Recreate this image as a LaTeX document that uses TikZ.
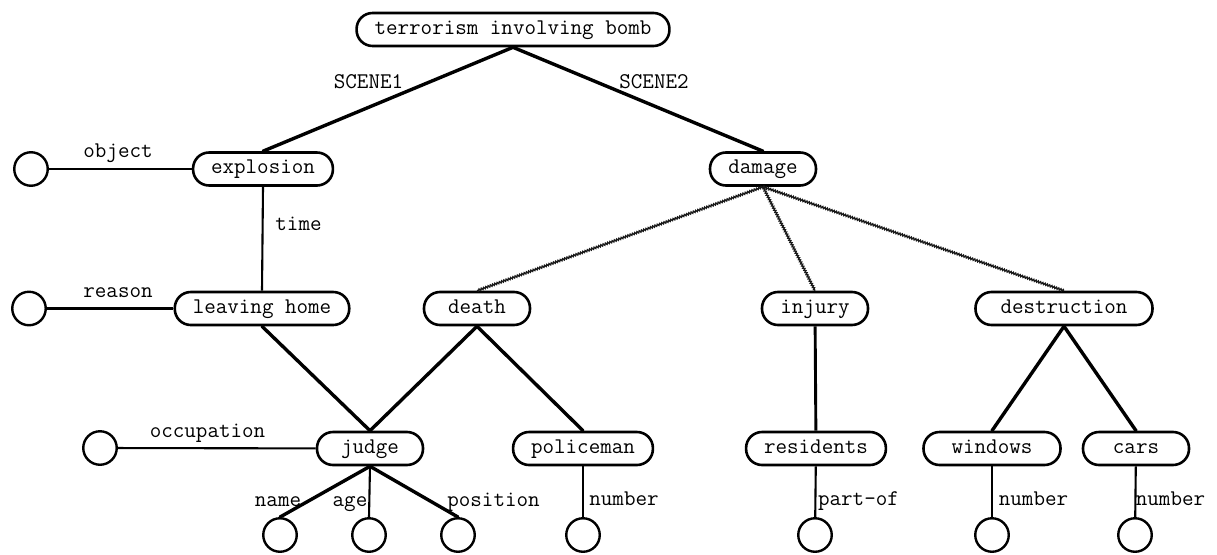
\documentclass[tikz,border=0pt]{standalone}
\usepackage{fontspec}
\usetikzlibrary{decorations.pathmorphing}
\begin{document}
\begin{tikzpicture}[x=1pt,y=-1pt,
  concept/.style={draw, line width=2.6pt, rounded corners=16pt,
    minimum height=33pt, minimum width=106pt, inner xsep=18pt, inner ysep=0pt,
    font=\ttfamily\fontsize{22.4}{24}\selectfont, text height=14pt, text depth=5pt},
  slot/.style={draw, circle, line width=2.4pt, minimum size=33.5pt, inner sep=0pt},
  rel/.style={font=\ttfamily\fontsize{22.4}{24}\selectfont, inner sep=0pt, anchor=base},
  strong/.style={line width=3.4pt, line cap=round},
  medium/.style={line width=2.9pt},
  weak/.style={line width=2.1pt},
  vague/.style={line width=1.3pt, black!90, decorate,
    decoration={zigzag, segment length=2.4pt, amplitude=0.9pt}},
]
\fill[white] (0,0) rectangle (1217,554);
\useasboundingbox (0,0) rectangle (1217,554);

% concept frames
\node[concept] (top) at (513,29.5) {terrorism involving bomb};
\node[concept] (expl) at (263,169) {explosion};
\node[concept] (dmg) at (763,169) {damage};
\node[concept] (leave) at (262,308.5) {leaving home};
\node[concept] (death) at (477,308.5) {death};
\node[concept] (inj) at (815,308.5) {injury};
\node[concept, minimum width=177pt] (destr) at (1064,308.5) {destruction};
\node[concept] (judge) at (370,448.5) {judge};
\node[concept] (police) at (583,448.5) {policeman};
\node[concept] (resid) at (816,448.5) {residents};
\node[concept, minimum width=137pt] (win) at (992,448.5) {windows};
\node[concept] (cars) at (1136,448.5) {cars};

% empty slots
\node[slot] (oObj) at (31,169) {};
\node[slot] (oReason) at (29,308.5) {};
\node[slot] (oOcc) at (100,448) {};
\node[slot] (oName) at (280,535) {};
\node[slot] (oAge) at (369,535) {};
\node[slot] (oPos) at (458,535) {};
\node[slot] (oPol) at (583,535) {};
\node[slot] (oRes) at (815,535) {};
\node[slot] (oWin) at (992,535) {};
\node[slot] (oCars) at (1135,535) {};

% relation names
\node[rel] (lScene1) at (368.5,88) {SCENE1};
\node[rel] (lScene2) at (654,88) {SCENE2};
\node[rel] (lObject) at (118,157) {object};
\node[rel] (lTime) at (298.5,230) {time};
\node[rel] (lReason) at (118,297) {reason};
\node[rel] (lOcc) at (207.5,437) {occupation};
\node[rel] (lName) at (278,506) {name};
\node[rel] (lAge) at (350,506) {age};
\node[rel] (lPos) at (493.5,506) {position};
\node[rel] (lNumPol) at (624,505) {number};
\node[rel] (lPart) at (858.5,505) {part-of};
\node[rel] (lNumWin) at (1033.5,505) {number};
\node[rel] (lNumCars) at (1170.5,505) {number};

% scenes
\draw[strong] (top.south) -- (expl.north);
\draw[strong] (top.south) -- (dmg.north);

% attribute links
\draw[weak] (oObj) -- (expl);
\draw[weak] (oReason) -- (leave);
\draw[weak] (oOcc) -- (judge);
\draw[weak] (expl.south) -- (leave.north);

% structure below
\draw[strong] (leave.south) -- (judge.north);
\draw[strong] (death.south) -- (judge.north);
\draw[strong] (death.south) -- (police.north);
\draw[medium] (inj) -- (resid);
\draw[strong] (destr.south) -- (win.north);
\draw[strong] (destr.south) -- (cars.north);

% vague damage links
\draw[vague] (dmg.south) -- (death.north);
\draw[vague] (dmg.south) -- (inj.north);
\draw[vague] (dmg.south) -- (destr.north);

% judge attributes
\draw[strong] (judge.south) -- (oName.north);
\draw[strong] (judge.south) -- (oPos.north);
\draw[weak] (judge.south) -- (oAge.north);

% numbers and parts
\draw[weak] (police) -- (oPol);
\draw[weak] (resid) -- (oRes);
\draw[weak] (win) -- (oWin);
\draw[weak] (cars) -- (oCars);
\end{tikzpicture}
\end{document}
